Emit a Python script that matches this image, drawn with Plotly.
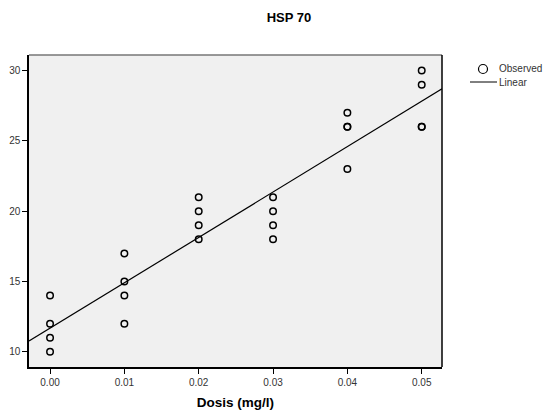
import numpy as np
import plotly.graph_objects as go

# Data
dose = [0.00, 0.00, 0.00, 0.00,
        0.01, 0.01, 0.01, 0.01,
        0.02, 0.02, 0.02, 0.02,
        0.03, 0.03, 0.03, 0.03,
        0.04, 0.04, 0.04, 0.04,
        0.05, 0.05, 0.05, 0.05]
hsp70 = [10, 11, 12, 14,
         12, 14, 15, 17,
         18, 19, 20, 21,
         18, 19, 20, 21,
         23, 26, 26, 27,
         26, 26, 29, 30]
x_ticks = [0.00, 0.01, 0.02, 0.03, 0.04, 0.05]
x_tick_labels = ["0.00", "0.01", "0.02", "0.03", "0.04", "0.05"]
y_ticks = [10, 15, 20, 25, 30]
legend_labels = ["Observed", "Linear"]

x_range = [-0.00283, 0.05273]
y_range = [8.92, 31.11]

slope, intercept = np.polyfit(dose, hsp70, 1)
fit_x = np.array(x_range)
fit_y = intercept + slope * fit_x

FONT = "Liberation Sans, Arial, sans-serif"

# plot area in pixels
L, R, T, B = 29, 442, 55, 367
W, H = 544, 412
PW, PH = R - L, B - T


def px(xpix):
    return (xpix - L) / PW


def py(ypix):
    return 1 - (ypix - T) / PH


fig = go.Figure()
fig.add_trace(go.Scatter(
    x=dose, y=hsp70, mode="markers", name=legend_labels[0],
    marker=dict(symbol="circle-open", size=6.5, color="black",
                line=dict(width=1.5, color="black")),
    showlegend=False,
))
fig.add_trace(go.Scatter(
    x=fit_x, y=fit_y, mode="lines", name=legend_labels[1],
    line=dict(color="black", width=1.2),
    showlegend=False,
))

shapes = [
    # top frame (grey) and right frame
    dict(type="line", xref="paper", yref="paper", x0=0, x1=1, y0=1, y1=1,
         line=dict(color="#777777", width=1.5)),
    dict(type="line", xref="paper", yref="paper", x0=1, x1=1, y0=0, y1=1,
         line=dict(color="black", width=1.5)),
    # legend symbols
    dict(type="circle", xref="paper", yref="paper",
         xsizemode="pixel", ysizemode="pixel",
         xanchor=px(483), yanchor=py(69),
         x0=-4.5, x1=4.5, y0=-4.5, y1=4.5,
         line=dict(color="black", width=1.2), fillcolor="rgba(0,0,0,0)"),
    dict(type="line", xref="paper", yref="paper",
         x0=px(470), x1=px(497), y0=py(82), y1=py(82),
         line=dict(color="black", width=1)),
]

annotations = [
    dict(text=legend_labels[0], xref="paper", yref="paper",
         x=px(497), y=py(69), xanchor="left", yanchor="middle",
         showarrow=False, font=dict(family=FONT, size=10, color="#333333")),
    dict(text=legend_labels[1], xref="paper", yref="paper",
         x=px(497), y=py(82), xanchor="left", yanchor="middle",
         showarrow=False, font=dict(family=FONT, size=10, color="#333333")),
]

fig.update_layout(
    width=W, height=H,
    margin=dict(l=L, r=W - R, t=T, b=H - B, autoexpand=False),
    paper_bgcolor="white",
    plot_bgcolor="#F0F0F0",
    font=dict(family=FONT, size=10, color="#333333"),
    title=dict(text="<b>HSP 70</b>", x=289 / W, xanchor="center",
               y=1 - 17 / H, yanchor="middle",
               font=dict(family=FONT, size=13, color="black")),
    showlegend=False,
    xaxis=dict(range=x_range, tickvals=x_ticks, ticktext=x_tick_labels,
               showgrid=False, zeroline=False,
               showline=True, linecolor="black", linewidth=1.5,
               ticks="outside", ticklen=5, tickcolor="black", tickwidth=1,
               tickfont=dict(family=FONT, size=10, color="#333333"),
               title=dict(text="<b>Dosis (mg/l)</b>",
                          font=dict(family=FONT, size=13.5, color="black"),
                          standoff=11)),
    yaxis=dict(range=y_range, tickvals=y_ticks,
               showgrid=False, zeroline=False,
               showline=True, linecolor="black", linewidth=1.5,
               ticks="outside", ticklen=5, tickcolor="black", tickwidth=1,
               tickfont=dict(family=FONT, size=10, color="#333333")),
    shapes=shapes,
    annotations=annotations,
)

fig.write_html("out.html")
